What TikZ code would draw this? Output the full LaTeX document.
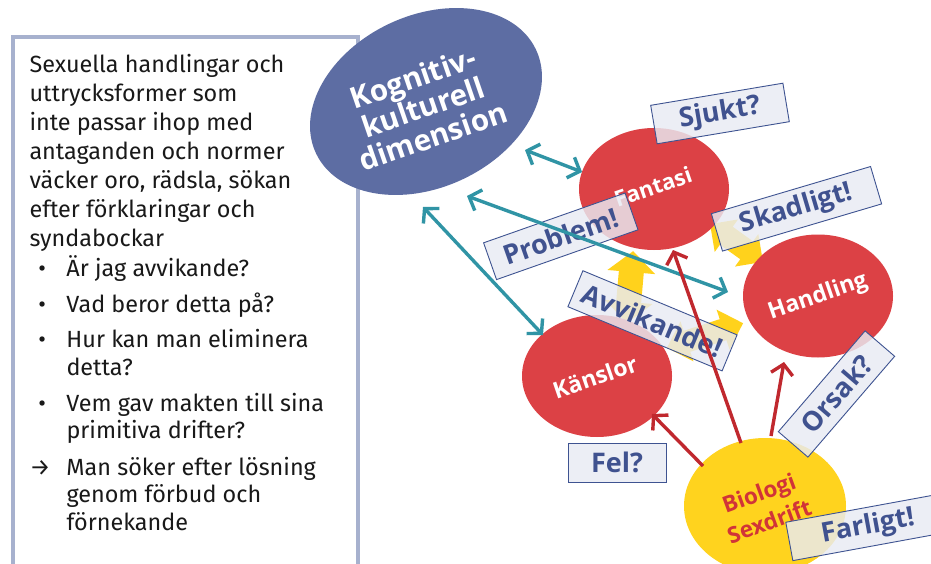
\documentclass[tikz,border=0pt]{standalone}
\usepackage{fontspec}
\setmainfont{Fira Sans}
\newfontfamily\lab{Open Sans}
\usetikzlibrary{shapes.geometric,arrows.meta}
\definecolor{blueell}{RGB}{93,109,163}
\definecolor{redell}{RGB}{220,65,69}
\definecolor{yelell}{RGB}{255,211,30}
\definecolor{yarrow}{RGB}{255,210,28}
\definecolor{tealc}{RGB}{48,148,165}
\definecolor{darkred}{RGB}{192,40,46}
\definecolor{boxfill}{RGB}{233,235,243}
\definecolor{boxdraw}{RGB}{62,83,145}
\definecolor{boxtext}{RGB}{64,82,143}
\definecolor{framec}{RGB}{167,177,206}
\definecolor{biotext}{RGB}{209,52,56}
\newcommand\yarr[7]{\fill[yarrow, shift={(#1,#2)}, rotate=#3]
  (-#4pt,0pt) -- ({-#4pt+#5pt},{#6pt}) -- ({-#4pt+#5pt},{#7pt}) -- ({#4pt-#5pt},{#7pt})
  -- ({#4pt-#5pt},{#6pt}) -- (#4pt,0pt) -- ({#4pt-#5pt},{-#6pt}) -- ({#4pt-#5pt},{-#7pt})
  -- ({-#4pt+#5pt},{-#7pt}) -- ({-#4pt+#5pt},{-#6pt}) -- cycle;}
\begin{document}
\begin{tikzpicture}[x=1pt,y=-1pt,
  ell/.style={ellipse, inner sep=0pt},
  elltext/.style={text=white, font=\lab\bfseries\fontsize{23}{26}\selectfont, align=center, inner sep=0pt},
  lbl/.style={draw=boxdraw, line width=0.9pt, fill=boxfill, fill opacity=0.82, text opacity=1,
    text=boxtext, font=\lab\bfseries\fontsize{27}{30}\selectfont, inner sep=0pt, minimum height=39},
  tarr/.style={draw=tealc, line width=3.4pt, <->, >={Straight Barb[length=10pt,width=22pt]}},
  rarr/.style={draw=darkred, line width=3.4pt, ->, >={Straight Barb[length=10pt,width=22pt]}}]
\useasboundingbox (0,0) rectangle (931,564);
\clip (0,0) rectangle (931,564);
\fill[white] (0,0) rectangle (931,564);
% left frame
\draw[framec, line width=4pt, fill=white] (13,37) rectangle (358,620);
\node[anchor=north west, inner sep=0pt, align=left, text=black!90,
  font=\fontsize{23.4}{29}\selectfont] (lefttext) at (29.3,54) {%
Sexuella handlingar och\\
uttrycksformer som\\
inte passar ihop med\\
antaganden och normer\\
väcker oro, rädsla, sökan\\
efter förklaringar och\\
syndabockar\\[1pt]
\makebox[37pt][l]{\hspace*{9pt}•}Är jag avvikande?\\[7pt]
\makebox[37pt][l]{\hspace*{9pt}•}Vad beror detta på?\\[6pt]
\makebox[37pt][l]{\hspace*{9pt}•}Hur kan man eliminera\\[-1pt]
\hspace*{37pt}detta?\\[7pt]
\makebox[37pt][l]{\hspace*{9pt}•}Vem gav makten till sina\\[-2pt]
\hspace*{37pt}primitiva drifter?\\[8pt]
\makebox[37pt][l]{→}Man söker efter lösning\\[-2pt]
\hspace*{37pt}genom förbud och\\[-1pt]
\hspace*{37pt}förnekande};
% yellow block arrows
\yarr{630}{287}{85}{36}{21}{24}{12.5}
\yarr{736.5}{243}{-35.6}{32.5}{20}{20}{11}
\yarr{705}{335.5}{17.9}{40}{21}{21}{11}
% ellipses
\coordinate (kog) at (426,101.5);
\fill[blueell, rotate around={25.2:(kog)}] (kog) ellipse [x radius=121.6pt, y radius=86pt];
\node[elltext, rotate=19, font=\lab\bfseries\fontsize{29.5}{31}\selectfont] (kogt) at (423,107) {Kognitiv-\\kulturell\\dimension};
\node[ell, fill=redell, minimum width=150, minimum height=122] (fan) at (654,189) {};
\node[elltext, rotate=19, font=\lab\bfseries\fontsize{22}{26}\selectfont] (fant) at (653,187) {Fantasi};
\node[ell, fill=redell, minimum width=150, minimum height=123] (han) at (818,296) {};
\node[elltext, rotate=19] (hant) at (818,297) {Handling};
\node[ell, fill=redell, minimum width=150, minimum height=122] (kan) at (597,376) {};
\node[elltext, rotate=19] (kant) at (595,377) {Känslor};
\node[ell, fill=yelell, minimum width=162, minimum height=136] (bio) at (765,506) {};
\node[elltext, rotate=20, text=biotext, font=\lab\bfseries\fontsize{22.5}{30}\selectfont] (biot) at (764,507) {Biologi\\Sexdrift};
% label boxes
\node[lbl, minimum width=134, rotate=9.5] (sjukt) at (720,113.5) {Sjukt?};
\node[lbl, minimum width=166, rotate=16.5] (skad) at (796.5,208.8) {Skadligt!};
\node[lbl, minimum width=150, rotate=19.4] (prob) at (560.8,236.3) {Problem!};
\node[lbl, minimum width=167, rotate=-22.6] (avv) at (652.5,320.8) {Avvikande!};
\node[lbl, minimum width=133, rotate=49.3] (orsak) at (836.5,394) {Orsak?};
\node[lbl, minimum width=98] (fel) at (617,462.5) {Fel?};
\node[lbl, minimum width=160, rotate=10.4] (farl) at (868,527) {Farligt!};
% connectors
\draw[tarr] ([shift={(99,48.5)}]kog) -- ([shift={(-72,-17)}]fan.center);
\draw[tarr] ([shift={(41,94.5)}]kog) -- ([shift={(-90,-4)}]han.center);
\draw[tarr] ([shift={(-3,105.5)}]kog) -- ([shift={(-54,-41)}]kan.center);
\draw[rarr] ([shift={(-62,-40)}]bio.center) -- ([shift={(55,38)}]kan.center);
\draw[rarr] ([shift={(-24,-63)}]bio.center) -- ([shift={(19,61)}]fan.center);
\draw[rarr] ([shift={(6,-70)}]bio.center) -- ([shift={(-34,66)}]han.center);
\end{tikzpicture}
\end{document}
